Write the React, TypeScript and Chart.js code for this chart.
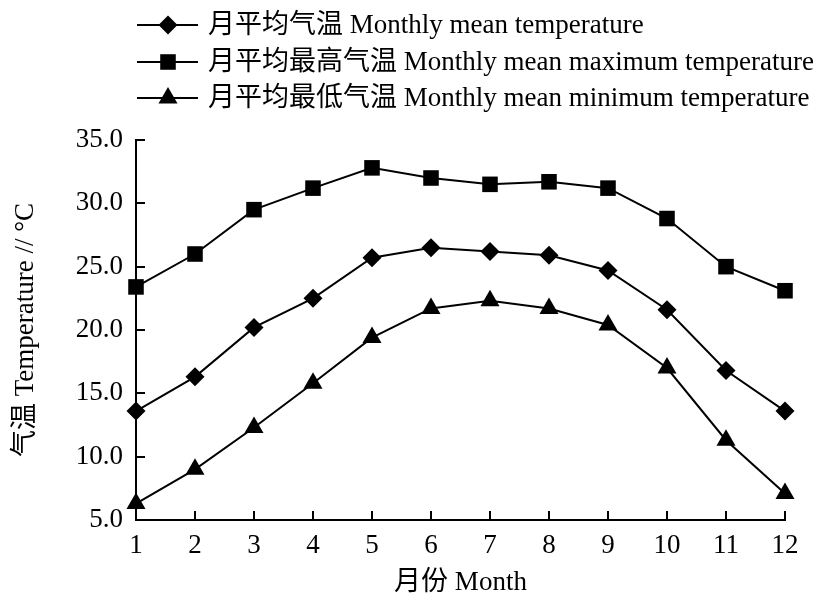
import React, { useEffect, useRef } from "react";
import { Chart, registerables } from "chart.js";

Chart.register(...registerables);

const months = [1, 2, 3, 4, 5, 6, 7, 8, 9, 10, 11, 12];
const meanTemp = [13.6, 16.3, 20.2, 22.5, 25.7, 26.5, 26.2, 25.9, 24.7, 21.6, 16.8, 13.6];
const maxTemp = [23.4, 26.0, 29.5, 31.2, 32.8, 32.0, 31.5, 31.7, 31.2, 28.8, 25.0, 23.1];
const minTemp = [6.3, 9.0, 12.3, 15.8, 19.4, 21.7, 22.3, 21.7, 20.4, 17.0, 11.3, 7.1];
const seriesLabels = [
  "月平均气温 Monthly mean temperature",
  "月平均最高气温 Monthly mean maximum temperature",
  "月平均最低气温 Monthly mean minimum temperature",
];
const yTicks = [5, 10, 15, 20, 25, 30, 35];
const xTitle = "月份 Month";
const yTitle = "气温 Temperature // °C";

const FONT = '"Liberation Serif", "Noto Sans CJK SC", serif';
const FS = 27;

function drawMarker(ctx: CanvasRenderingContext2D, style: string, x: number, y: number, r: number) {
  ctx.beginPath();
  if (style === "rectRot") {
    ctx.moveTo(x, y - r);
    ctx.lineTo(x + r, y);
    ctx.lineTo(x, y + r);
    ctx.lineTo(x - r, y);
  } else if (style === "rect") {
    const s = r * Math.SQRT1_2;
    ctx.rect(x - s, y - s, 2 * s, 2 * s);
  } else {
    const h = r * Math.sin(Math.PI / 3);
    ctx.moveTo(x, y - r);
    ctx.lineTo(x + h, y + r / 2);
    ctx.lineTo(x - h, y + r / 2);
  }
  ctx.closePath();
  ctx.fill();
}

const tickPlugin = {
  id: "innerTicksAndLegend",
  afterDraw(chart: any) {
    const ctx = chart.ctx as CanvasRenderingContext2D;
    const xs = chart.scales.x;
    const ys = chart.scales.y;
    ctx.save();
    ctx.strokeStyle = "#000";
    ctx.lineWidth = 2;
    const L = 9;
    yTicks.forEach((v) => {
      const py = Math.round(ys.getPixelForValue(v));
      ctx.beginPath();
      ctx.moveTo(xs.left, py);
      ctx.lineTo(xs.left + L, py);
      ctx.stroke();
    });
    months.forEach((m) => {
      const px = Math.round(xs.getPixelForValue(m));
      ctx.beginPath();
      ctx.moveTo(px, ys.bottom);
      ctx.lineTo(px, ys.bottom - L);
      ctx.stroke();
    });
    // legend
    const rowsY = [25, 62, 98];
    ctx.font = `${FS}px ${FONT}`;
    ctx.textBaseline = "middle";
    ctx.textAlign = "left";
    ctx.fillStyle = "#000";
    chart.data.datasets.forEach((ds: any, i: number) => {
      const y = rowsY[i];
      ctx.beginPath();
      ctx.moveTo(137, y);
      ctx.lineTo(198, y);
      ctx.stroke();
      drawMarker(ctx, ds.pointStyle, 168, y, ds.pointRadius);
      ctx.fillText(ds.label, 208, y + 1);
    });
    ctx.restore();
  },
};

export default function App() {
  const ref = useRef<HTMLCanvasElement | null>(null);
  useEffect(() => {
    document.body.style.margin = "0";
    const common = {
      borderColor: "#000",
      backgroundColor: "#000",
      pointBackgroundColor: "#000",
      pointBorderColor: "#000",
      borderWidth: 2,
      pointBorderWidth: 0,
      clip: false as any,
      tension: 0,
    };
    const chart = new Chart(ref.current!, {
      type: "line",
      data: {
        datasets: [
          {
            ...common,
            label: seriesLabels[0],
            data: months.map((m, i) => ({ x: m, y: meanTemp[i] })),
            pointStyle: "rectRot",
            pointRadius: 9.5,
          },
          {
            ...common,
            label: seriesLabels[1],
            data: months.map((m, i) => ({ x: m, y: maxTemp[i] })),
            pointStyle: "rect",
            pointRadius: 11,
          },
          {
            ...common,
            label: seriesLabels[2],
            data: months.map((m, i) => ({ x: m, y: minTemp[i] })),
            pointStyle: "triangle",
            pointRadius: 11,
          },
        ],
      },
      options: {
        animation: false,
        responsive: false,
        layout: { padding: { left: 0, right: 34, top: 140, bottom: 0 } },
        plugins: { legend: { display: false }, tooltip: { enabled: false } },
        scales: {
          x: {
            type: "linear",
            min: 1,
            max: 12,
            afterFit: (s: any) => {
              s.height = 79;
            },
            grid: { display: false, drawTicks: false },
            border: { display: true, color: "#000", width: 2 },
            ticks: {
              stepSize: 1,
              padding: 10,
              color: "#000",
              font: { family: FONT, size: FS },
              autoSkip: false,
              maxRotation: 0,
            },
            title: {
              display: true,
              text: xTitle,
              color: "#000",
              font: { family: FONT, size: FS },
              padding: { top: 0, bottom: 0 },
            },
          },
          y: {
            type: "linear",
            min: 5,
            max: 35,
            afterFit: (s: any) => {
              s.width = 136;
            },
            grid: { display: false, drawTicks: false },
            border: { display: true, color: "#000", width: 2 },
            ticks: {
              stepSize: 5,
              padding: 13,
              color: "#000",
              font: { family: FONT, size: FS },
              callback: (v: any) => Number(v).toFixed(1),
            },
            title: {
              display: true,
              text: yTitle,
              color: "#000",
              font: { family: FONT, size: FS },
              padding: { top: 10, bottom: 0 },
            },
          },
        },
      },
      plugins: [tickPlugin],
    });
    return () => chart.destroy();
  }, []);
  return (
    <div style={{ width: 819, height: 599, background: "#fff" }}>
      <canvas ref={ref} width={819} height={599} style={{ display: "block" }} />
    </div>
  );
}
